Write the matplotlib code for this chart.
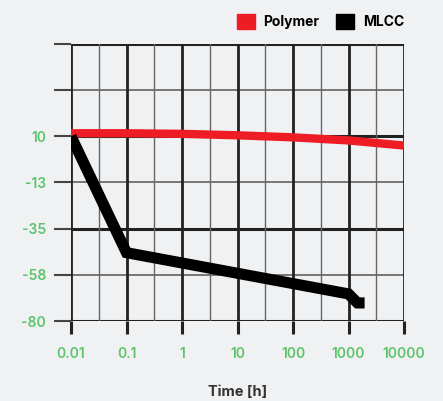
import matplotlib.pyplot as plt
import matplotlib.patches as mpatches
import numpy as np

# data
poly_t = [0.01, 0.1, 1, 10, 100, 1000, 10000]
poly_v = [11.5, 11.5, 11.2, 10.5, 9.5, 8.0, 5.5]

mlcc_t = [0.01, 0.1, 1000, 1450, 1950]
mlcc_v = [10.0, -46.7, -66.8, -71.2, -71.2]

ytick_vals = [-80, -57.5, -35, -12.5, 10, 32.5, 55]
ytick_labels = ['-80', '-58', '-35', '-13', '10', '', '']
xtick_vals = [0.01, 0.1, 1, 10, 100, 1000, 10000]
xtick_labels = ['0.01', '0.1', '1', '10', '100', '1000', '10000']

bg = '#f0f1f3'
green = '#5cc46a'
red = '#ee1c25'
dark = '#222222'

plt.rcParams['font.family'] = ['Inter', 'DejaVu Sans']

fig = plt.figure(figsize=(4.43, 4.01), dpi=100, facecolor=bg)
ax = fig.add_axes([0.1603, 0.1995, 0.7517, 0.6908])
ax.set_facecolor(bg)

ax.set_xscale('log')
ax.set_xlim(0.01, 10000)
ax.set_ylim(-80, 55)

# grid: thick every other horizontal line, thin in between
for i, y in enumerate(ytick_vals):
    thick = (i % 2 == 0)
    ax.axhline(y, color=dark if thick else '#555555', lw=2.2 if thick else 1.1, zorder=1)
for x in xtick_vals:
    ax.axvline(x, color=dark, lw=2.0, zorder=1)
for x in xtick_vals[:-1]:
    ax.axvline(x * np.sqrt(10), color='#666666', lw=1.0, zorder=1)

ax.plot(poly_t, poly_v, color=red, lw=6, solid_capstyle='butt', zorder=3)
ax.plot(mlcc_t, mlcc_v, color='black', lw=8, solid_capstyle='butt',
        solid_joinstyle='miter', zorder=4)

for s in ax.spines.values():
    s.set_visible(False)

ax.set_yticks(ytick_vals)
ax.set_yticklabels(ytick_labels)
ax.set_xticks(xtick_vals)
ax.set_xticklabels(xtick_labels)
ax.minorticks_off()
ax.tick_params(axis='y', length=12, width=1.5, color='#444444', pad=6,
               labelcolor=green, labelsize=10)
ax.tick_params(axis='x', length=9, width=2.2, color=dark, pad=10,
               labelcolor=green, labelsize=10)
for lbl in ax.get_xticklabels() + ax.get_yticklabels():
    lbl.set_fontweight('semibold')

ax.set_xlabel('Time [h]', fontsize=10.5, fontweight='bold', color='#333333', labelpad=17)

handles = [mpatches.Patch(color=red, label='Polymer'),
           mpatches.Patch(color='black', label='MLCC')]
leg = fig.legend(handles=handles, loc='upper right', bbox_to_anchor=(0.94, 0.997),
                 ncol=2, frameon=False, handlelength=1.3, handleheight=1.3,
                 handletextpad=0.6, columnspacing=1.2, fontsize=10)
for t in leg.get_texts():
    t.set_fontweight('bold')

fig.savefig('out.png', dpi=100, facecolor=bg)
